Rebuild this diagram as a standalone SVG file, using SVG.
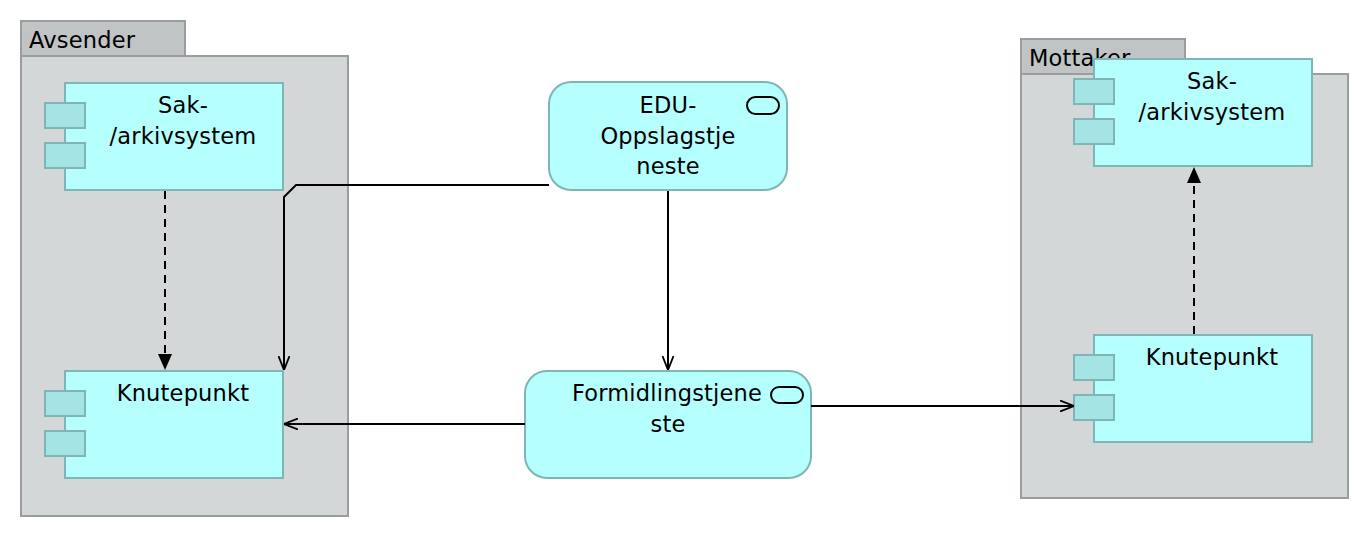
<svg xmlns="http://www.w3.org/2000/svg" width="1370" height="538" viewBox="0 0 1370 538">
<style>
.grp{fill:#d3d7d8;stroke:#9a9d9e;stroke-width:2}
.tab{fill:#c0c4c5;stroke:#9a9d9e;stroke-width:2}
.comp{fill:#b5ffff;stroke:#7fb5b5;stroke-width:2}
.ctab{fill:#a5e4e4;stroke:#7fb5b5;stroke-width:2}
.svc{fill:#b5ffff;stroke:#7fb5b5;stroke-width:2}
.icon{fill:none;stroke:#000;stroke-width:2}
text{font-family:"DejaVu Sans","Noto Sans",sans-serif;font-size:22.5px;letter-spacing:0.2px;fill:#000}
.c{text-anchor:middle}
.ln{fill:none;stroke:#000;stroke-width:2}
.dash{stroke-dasharray:8,6}
</style>
<defs>
<marker id="open" viewBox="0 0 14 12" refX="14" refY="6" markerWidth="14" markerHeight="12" markerUnits="userSpaceOnUse" orient="auto">
<path d="M0,0.5 L14,6 L0,11.5" fill="none" stroke="#000" stroke-width="1.8"/>
</marker>
<marker id="fill" viewBox="0 0 16 14" refX="16" refY="7" markerWidth="16" markerHeight="14" markerUnits="userSpaceOnUse" orient="auto">
<path d="M0,0 L16,7 L0,14 Z" fill="#000"/>
</marker>
</defs>
<g id="avsender">
<rect class="tab" x="21" y="21" width="164" height="35"/>
<rect class="grp" x="21" y="56" width="327" height="460"/>
<text x="29" y="48">Avsender</text>
</g>
<g id="mottaker">
<rect class="tab" x="1021" y="39" width="164" height="35"/>
<rect class="grp" x="1021" y="74" width="327" height="424"/>
<text x="1029" y="66">Mottaker</text>
</g>
<g id="sak-avsender">
<rect class="comp" x="65" y="83" width="218" height="107"/>
<rect class="ctab" x="45" y="103" width="40" height="25"/>
<rect class="ctab" x="45" y="143" width="40" height="25"/>
<text class="c" x="183" y="113">Sak-</text>
<text class="c" x="183" y="144">/arkivsystem</text>
</g>
<g id="knutepunkt-avsender">
<rect class="comp" x="65" y="371" width="218" height="107"/>
<rect class="ctab" x="45" y="391" width="40" height="25"/>
<rect class="ctab" x="45" y="431" width="40" height="25"/>
<text class="c" x="183" y="401">Knutepunkt</text>
</g>
<g id="edu-oppslag">
<rect class="svc" x="549" y="82" width="238" height="108" rx="22" ry="22"/>
<rect class="icon" x="747" y="97" width="32" height="17" rx="8.5" ry="8.5"/>
<text class="c" x="668" y="113">EDU-</text>
<text class="c" x="668" y="144">Oppslagstje</text>
<text class="c" x="668" y="174">neste</text>
</g>
<g id="formidling">
<rect class="svc" x="525" y="371" width="286" height="107" rx="22" ry="22"/>
<rect class="icon" x="771" y="387" width="32" height="16" rx="8" ry="8"/>
<text class="c" x="667" y="401">Formidlingstjene</text>
<text class="c" x="668" y="432">ste</text>
</g>
<g id="sak-mottaker">
<rect class="comp" x="1094" y="59" width="218" height="107"/>
<rect class="ctab" x="1074" y="79" width="40" height="25"/>
<rect class="ctab" x="1074" y="119" width="40" height="25"/>
<text class="c" x="1212" y="89">Sak-</text>
<text class="c" x="1212" y="120">/arkivsystem</text>
</g>
<g id="knutepunkt-mottaker">
<rect class="comp" x="1094" y="335" width="218" height="107"/>
<rect class="ctab" x="1074" y="355" width="40" height="25"/>
<rect class="ctab" x="1074" y="395" width="40" height="25"/>
<text class="c" x="1212" y="365">Knutepunkt</text>
</g>
<g id="connectors">
<path class="ln dash" d="M165,191 L165,370" marker-end="url(#fill)"/>
<path class="ln" d="M549,185 L296,185 L284,197 L284,370" marker-end="url(#open)"/>
<path class="ln" d="M668,191 L668,370" marker-end="url(#open)"/>
<path class="ln" d="M525,424 L284,424" marker-end="url(#open)"/>
<path class="ln" d="M811,406 L1074,406" marker-end="url(#open)"/>
<path class="ln dash" d="M1194,334 L1194,167" marker-end="url(#fill)"/>
</g>
</svg>
